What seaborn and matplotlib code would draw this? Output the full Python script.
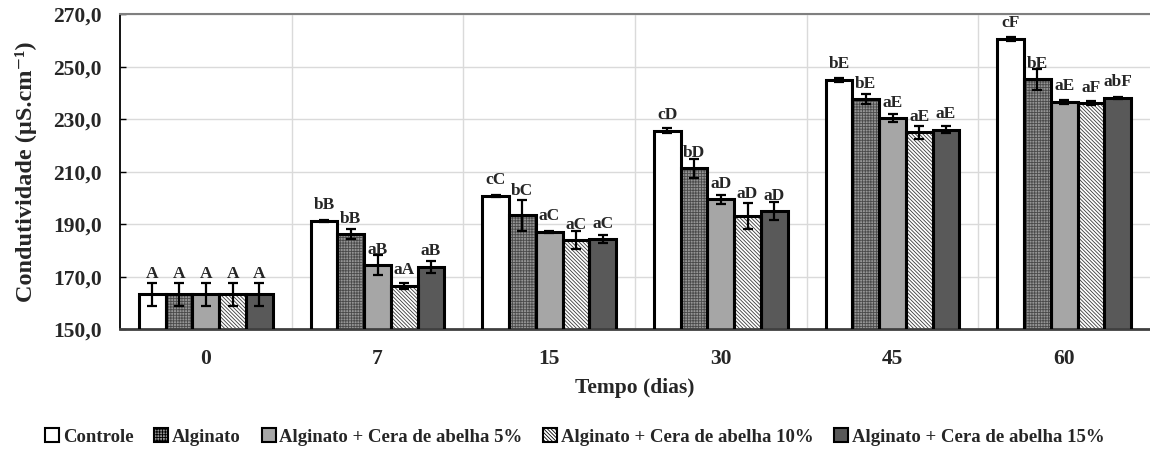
import matplotlib
matplotlib.use('Agg')
import matplotlib.pyplot as plt
from matplotlib.patches import Rectangle, Patch
from matplotlib.ticker import FuncFormatter, FixedLocator
import seaborn as sns
import pandas as pd

# Dados
dias = ['0', '7', '15', '30', '45', '60']
tratamentos = ['Controle', 'Alginato', 'Alginato + Cera de abelha 5%',
               'Alginato + Cera de abelha 10%', 'Alginato + Cera de abelha 15%']

controle = [163.3, 191.3, 200.8, 225.7, 245.0, 260.6]
alginato = [163.3, 186.2, 193.4, 211.3, 237.7, 245.2]
cera5 = [163.3, 174.4, 187.2, 199.5, 230.4, 236.7]
cera10 = [163.3, 166.6, 184.0, 193.2, 225.0, 236.1]
cera15 = [163.3, 173.9, 184.4, 195.0, 226.0, 238.2]

erro_controle = [4.5, 0.5, 0.5, 0.8, 0.7, 0.8]
erro_alginato = [4.5, 1.9, 5.8, 3.7, 2.0, 4.1]
erro_cera5 = [4.5, 3.8, 0.4, 1.7, 1.6, 0.7]
erro_cera10 = [4.5, 1.2, 3.6, 4.8, 2.5, 0.7]
erro_cera15 = [4.5, 2.3, 1.5, 3.5, 1.3, 0.4]

letras_controle = ['A', 'bB', 'cC', 'cD', 'bE', 'cF']
letras_alginato = ['A', 'bB', 'bC', 'bD', 'bE', 'bE']
letras_cera5 = ['A', 'aB', 'aC', 'aD', 'aE', 'aE']
letras_cera10 = ['A', 'aA', 'aC', 'aD', 'aE', 'aF']
letras_cera15 = ['A', 'aB', 'aC', 'aD', 'aE', 'abF']

medias = [controle, alginato, cera5, cera10, cera15]
erros = [erro_controle, erro_alginato, erro_cera5, erro_cera10, erro_cera15]
letras = [letras_controle, letras_alginato, letras_cera5, letras_cera10, letras_cera15]

# estilo de cada tratamento: cor, hachura, cor da hachura
cores = ['#ffffff', '#959595', '#a6a6a6', '#ffffff', '#595959']
hachuras = [None, '++++++', None, '\\' * 9, None]
cor_hachura = ['black', '#4a4a4a', 'black', '#3a3a3a', 'black']

rows = []
for trat, vals in zip(tratamentos, medias):
    for d, v in zip(dias, vals):
        rows.append({'Tempo': d, 'valor': v, 'trat': trat})
df = pd.DataFrame(rows)

sns.set_theme(style='white')
plt.rcParams['font.family'] = ['Liberation Serif', 'DejaVu Serif']
plt.rcParams['font.weight'] = 'bold'
plt.rcParams['hatch.linewidth'] = 0.6

fig = plt.figure(figsize=(11.5, 4.51), dpi=100)
ax = fig.add_axes([120 / 1150, 1 - 329.3 / 451, 1 - 120 / 1150, 315 / 451])

sns.barplot(data=df, x='Tempo', y='valor', hue='trat', order=dias,
            hue_order=tratamentos, palette=cores, saturation=1, width=0.78,
            errorbar=None, legend=False, ax=ax)

for cont, h_style, h_col, err, lets in zip(ax.containers, hachuras, cor_hachura, erros, letras):
    for bar, e, l in zip(cont.patches, err, lets):
        w = bar.get_width()
        x = bar.get_x() + w / 2
        h = bar.get_height()
        if h_style:
            bar.set_hatch(h_style)
        bar.set_edgecolor(h_col)
        bar.set_linewidth(0)
        ax.add_patch(Rectangle((bar.get_x(), bar.get_y()), w, h, fill=False,
                               ec='black', lw=2.2, zorder=3))
        ax.errorbar(x, h, yerr=e, fmt='none', ecolor='black', elinewidth=1.6,
                    capsize=3.5, capthick=1.6, zorder=4)
        off = 5.9 if e <= 4.3 else e + 3.4
        ax.text(x, h + off, l, ha='center', va='center', fontsize=12.5,
                fontweight='bold', zorder=5)

ax.set_ylim(150, 270)
ax.set_xlim(-0.5, 5.5)
ax.set_yticks(range(150, 271, 20))
ax.yaxis.set_major_formatter(FuncFormatter(lambda v, p: f'{v:.1f}'.replace('.', ',')))
ax.xaxis.set_minor_locator(FixedLocator([0.5, 1.5, 2.5, 3.5, 4.5]))
ax.grid(True, axis='y', which='major', color='#dadada', lw=1)
ax.grid(True, axis='x', which='minor', color='#dadada', lw=1)
ax.set_axisbelow(True)

ax.tick_params(axis='y', direction='in', length=4, width=1, color='black',
               labelsize=15.5, pad=13, left=True)
ax.tick_params(axis='x', which='both', length=0, labelsize=15.5, pad=14)

ax.set_ylabel('Condutividade (µS.cm⁻¹)', fontsize=17.5,
              fontweight='bold', labelpad=12)
ax.set_xlabel('Tempo (dias)', fontsize=15.5, fontweight='bold', labelpad=7)

ax.spines['top'].set_color('#7f7f7f')
ax.spines['top'].set_linewidth(1.5)
ax.spines['left'].set_color('black')
ax.spines['left'].set_linewidth(1.3)
ax.spines['bottom'].set_color('#404040')
ax.spines['bottom'].set_linewidth(2)
ax.spines['right'].set_visible(False)

handles = []
for c, hs in zip(cores, hachuras):
    handles.append(Patch(facecolor=c, edgecolor='black', hatch=hs, lw=1.5))
fig.legend(handles, tratamentos, loc='center', bbox_to_anchor=(0.5, 1 - 437 / 451),
           ncol=5, frameon=False, fontsize=13.5, handlelength=0.75,
           handleheight=0.75, handletextpad=0.2, columnspacing=1.1)

fig.savefig('out.png', dpi=100)
